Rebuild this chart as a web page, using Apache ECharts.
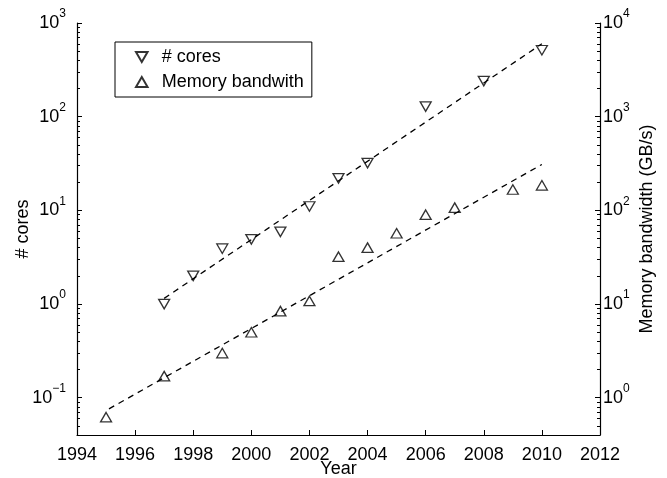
<!DOCTYPE html>
<html>
<head>
<meta charset="utf-8">
<script src="https://cdn.jsdelivr.net/npm/echarts@6/dist/echarts.min.js"></script>
<style>
  html, body { margin: 0; padding: 0; background: #fff; }
  #chart { width: 667px; height: 478px; }
</style>
</head>
<body>
<div id="chart"></div>
<script>
// data
const coreYears = [1997, 1998, 1999, 2000, 2001, 2002, 2003, 2004, 2006, 2008, 2010];
const cores = [1, 2, 3.9, 4.9, 5.9, 11, 22, 32, 128, 240, 512];

const memYears = [1995, 1997, 1999, 2000, 2001, 2002, 2003, 2004, 2005, 2006, 2007, 2009, 2010];
const memBandwidth = [0.62, 1.7, 3.0, 5.0, 8.4, 10.8, 32, 40, 57, 90, 107, 167, 185]; // GB/s

// dashed trend lines (end points)
const coreFitYears = [1997, 2010];
const coreFit = [1.15, 600];
const memFitYears = [1995.1, 2010];
const memFit = [0.76, 309];

const xTicks = [1994, 1996, 1998, 2000, 2002, 2004, 2006, 2008, 2010, 2012];
const leftMajor = [0.1, 1, 10, 100, 1000];
const leftMinor = [0.05, 0.06, 0.07, 0.08, 0.09, 0.2, 0.3, 0.4, 0.5, 0.6, 0.7, 0.8, 0.9,
  2, 3, 4, 5, 6, 7, 8, 9, 20, 30, 40, 50, 60, 70, 80, 90, 200, 300, 400, 500, 600, 700, 800, 900];
const rightMajor = [1, 10, 100, 1000, 10000];
const rightMinor = [0.5, 0.6, 0.7, 0.8, 0.9, 2, 3, 4, 5, 6, 7, 8, 9, 20, 30, 40, 50, 60, 70, 80, 90,
  200, 300, 400, 500, 600, 700, 800, 900, 2000, 3000, 4000, 5000, 6000, 7000, 8000, 9000];

const FONT = '"Liberation Sans", Arial, Helvetica, sans-serif';
const DOWN = 'path://M0,0L10,0L5,8.66Z';
const UP = 'path://M5,0L10,8.66L0,8.66Z';

function pairs(xs, ys) {
  return xs.map((x, i) => [x, ys[i]]);
}

function powLabel(v) {
  const e = Math.round(Math.log10(v));
  return '{b|10}{e|' + (e < 0 ? '\u2212' + (-e) : e) + '}';
}

const supRich = {
  b: { fontSize: 18, fontFamily: FONT, color: '#000', verticalAlign: 'bottom', lineHeight: 18 },
  e: { fontSize: 12, fontFamily: FONT, color: '#000', verticalAlign: 'bottom', lineHeight: 12, padding: [0, 0, 12, 0] }
};

const gridBox = { left: 77, right: 67, top: 23, bottom: 43, outerBoundsMode: 'none', containLabel: false };

function logAxis(opts) {
  return Object.assign({
    type: 'log',
    logBase: 10,
    splitLine: { show: false },
    axisLine: { show: true, lineStyle: { color: '#000', width: 1.2 } },
    nameLocation: 'middle',
    nameRotate: 90,
    nameMoveOverlap: false,
    nameTextStyle: { fontSize: 18, fontFamily: FONT, color: '#000' }
  }, opts);
}

const chart = echarts.init(document.getElementById('chart'));
chart.setOption({
  animation: false,
  backgroundColor: '#fff',
  // grid 0: labelled axes + major ticks, grid 1: same scales with minor ticks
  grid: [gridBox, Object.assign({}, gridBox)],
  legend: {
    left: 115,
    top: 42,
    orient: 'vertical',
    data: ['# cores', 'Memory bandwith'],
    padding: [6, 8, 6, 20],
    itemWidth: 30,
    itemHeight: 10,
    itemGap: 7,
    borderColor: '#000',
    borderWidth: 1,
    selectedMode: false,
    textStyle: { fontSize: 18, fontFamily: FONT, color: '#000' }
  },
  xAxis: [
    {
      type: 'value',
      gridIndex: 0,
      min: 1994,
      max: 2012,
      interval: 2,
      name: 'Year',
      nameLocation: 'middle',
      nameGap: 25,
      nameMoveOverlap: false,
      nameTextStyle: { fontSize: 18, fontFamily: FONT, color: '#000' },
      splitLine: { show: false },
      axisLine: { lineStyle: { color: '#000', width: 1.2 } },
      axisTick: { inside: true, length: 5, lineStyle: { color: '#000' } },
      axisLabel: { margin: 11, fontSize: 18, fontFamily: FONT, color: '#000', customValues: xTicks, formatter: v => String(v) }
    },
    { type: 'value', gridIndex: 1, min: 1994, max: 2012, show: false }
  ],
  yAxis: [
    logAxis({
      gridIndex: 0,
      position: 'left',
      min: 0.04,
      max: 1000,
      name: '# cores',
      nameGap: 45,
      axisTick: { inside: true, length: 5, customValues: leftMajor, lineStyle: { color: '#000' } },
      axisLabel: { margin: 11, formatter: powLabel, rich: supRich, customValues: leftMajor }
    }),
    logAxis({
      gridIndex: 0,
      position: 'right',
      min: 0.4,
      max: 10000,
      name: 'Memory bandwidth (GB/s)',
      nameGap: 38,
      axisTick: { inside: true, length: 5, customValues: rightMajor, lineStyle: { color: '#000' } },
      axisLabel: { margin: 3, formatter: powLabel, rich: supRich, customValues: rightMajor }
    }),
    logAxis({
      gridIndex: 1,
      position: 'left',
      min: 0.04,
      max: 1000,
      axisLine: { show: false },
      axisLabel: { show: false },
      axisTick: { inside: true, length: 3, customValues: leftMinor, lineStyle: { color: '#000' } }
    }),
    logAxis({
      gridIndex: 1,
      position: 'right',
      min: 0.4,
      max: 10000,
      axisLine: { show: false },
      axisLabel: { show: false },
      axisTick: { inside: true, length: 3, customValues: rightMinor, lineStyle: { color: '#000' } }
    })
  ],
  series: [
    {
      name: 'cores fit',
      type: 'line',
      xAxisIndex: 0,
      yAxisIndex: 0,
      data: pairs(coreFitYears, coreFit),
      showSymbol: false,
      silent: true,
      lineStyle: { color: '#000', width: 1.3, type: [6, 5] }
    },
    {
      name: 'memory fit',
      type: 'line',
      xAxisIndex: 0,
      yAxisIndex: 1,
      data: pairs(memFitYears, memFit),
      showSymbol: false,
      silent: true,
      lineStyle: { color: '#000', width: 1.3, type: [6, 5] }
    },
    {
      name: '# cores',
      type: 'scatter',
      xAxisIndex: 1,
      yAxisIndex: 2,
      data: pairs(coreYears, cores),
      symbol: DOWN,
      symbolSize: [11, 9.5],
      itemStyle: { color: 'transparent', borderColor: '#000', borderWidth: 1.3 },
      emphasis: { disabled: true }
    },
    {
      name: 'Memory bandwith',
      type: 'scatter',
      xAxisIndex: 1,
      yAxisIndex: 3,
      data: pairs(memYears, memBandwidth),
      symbol: UP,
      symbolSize: [11, 9.5],
      itemStyle: { color: 'transparent', borderColor: '#000', borderWidth: 1.3 },
      emphasis: { disabled: true }
    }
  ]
});
</script>
</body>
</html>
